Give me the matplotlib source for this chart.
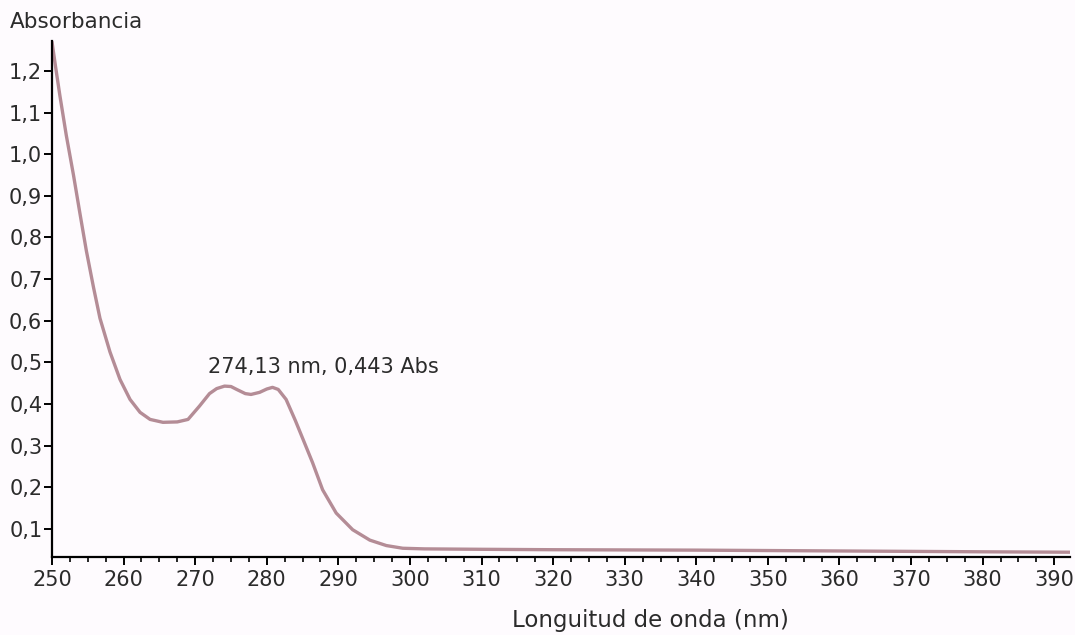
import matplotlib
matplotlib.use("Agg")
import matplotlib.pyplot as plt
from matplotlib.ticker import MultipleLocator, FuncFormatter

# spectrum
wavelength = [250.0, 250.5, 251.1, 252.0, 253.0, 253.9, 254.8, 255.8, 256.7, 258.1,
              259.5, 260.9, 262.3, 263.7, 265.5, 267.5, 269.0, 270.6, 272.0, 273.0,
              274.1, 275.0, 275.8, 277.0, 277.8, 279.0, 280.0, 280.8, 281.6, 282.7,
              284.0, 285.0, 286.4, 287.8, 289.7, 292.0, 294.4, 296.7, 299.0, 302.0,
              310.0, 320.0, 340.0, 360.0, 380.0, 392.2]
absorbance = [1.27, 1.21, 1.141, 1.045, 0.950, 0.858, 0.768, 0.680, 0.606, 0.525,
              0.459, 0.411, 0.380, 0.363, 0.356, 0.357, 0.363, 0.395, 0.425, 0.437,
              0.443, 0.442, 0.435, 0.425, 0.423, 0.428, 0.436, 0.440, 0.435, 0.411,
              0.360, 0.318, 0.259, 0.194, 0.138, 0.098, 0.073, 0.060, 0.0535, 0.052,
              0.051, 0.050, 0.049, 0.047, 0.045, 0.044]

peak_wl = 274.13
peak_abs = 0.443
peak_label = "274,13 nm, 0,443 Abs"

bg = "#fefbfe"
txt = "#2b2b2b"
fs = 15.5

fig = plt.figure(figsize=(10.75, 6.35), dpi=100, facecolor=bg)
ax = fig.add_axes([52 / 1075, 1 - 557 / 635, (1070 - 52) / 1075, (557 - 41) / 635])
ax.set_facecolor(bg)

ax.plot(wavelength, absorbance, color="#b48c96", lw=2.4, solid_capstyle="round")

ax.set_xlim(250, 392.2)
ax.set_ylim(0.0325, 1.272)

for s in ["top", "right"]:
    ax.spines[s].set_visible(False)
for s in ["left", "bottom"]:
    ax.spines[s].set_linewidth(1.6)
    ax.spines[s].set_color("black")

ax.xaxis.set_major_locator(MultipleLocator(10))
ax.xaxis.set_minor_locator(MultipleLocator(2.5))
ax.yaxis.set_major_locator(MultipleLocator(0.1))
comma = FuncFormatter(lambda v, p: f"{v:.1f}".replace(".", ","))
ax.yaxis.set_major_formatter(comma)

ax.tick_params(axis="x", which="major", length=6, width=1.4, direction="out",
               labelsize=fs - 0.5, labelcolor=txt, pad=3)
ax.tick_params(axis="x", which="minor", length=3.5, width=1.2, direction="out")
ax.tick_params(axis="y", which="major", length=6, width=1.4, direction="out",
               labelsize=fs - 0.5, labelcolor=txt, pad=1)

ax.annotate(peak_label, xy=(peak_wl, peak_abs), xytext=(-12, 14),
            textcoords="offset points", ha="left", va="center",
            fontsize=fs - 0.5, color=txt)

fig.text(10 / 1075, 1 - 22 / 635, "Absorbancia", ha="left", va="center",
         fontsize=fs, color=txt)
fig.text(650 / 1075, 1 - 620 / 635, "Longuitud de onda (nm)", ha="center",
         va="center", fontsize=fs + 1, color=txt)

fig.savefig("out.png", dpi=100, facecolor=bg)
